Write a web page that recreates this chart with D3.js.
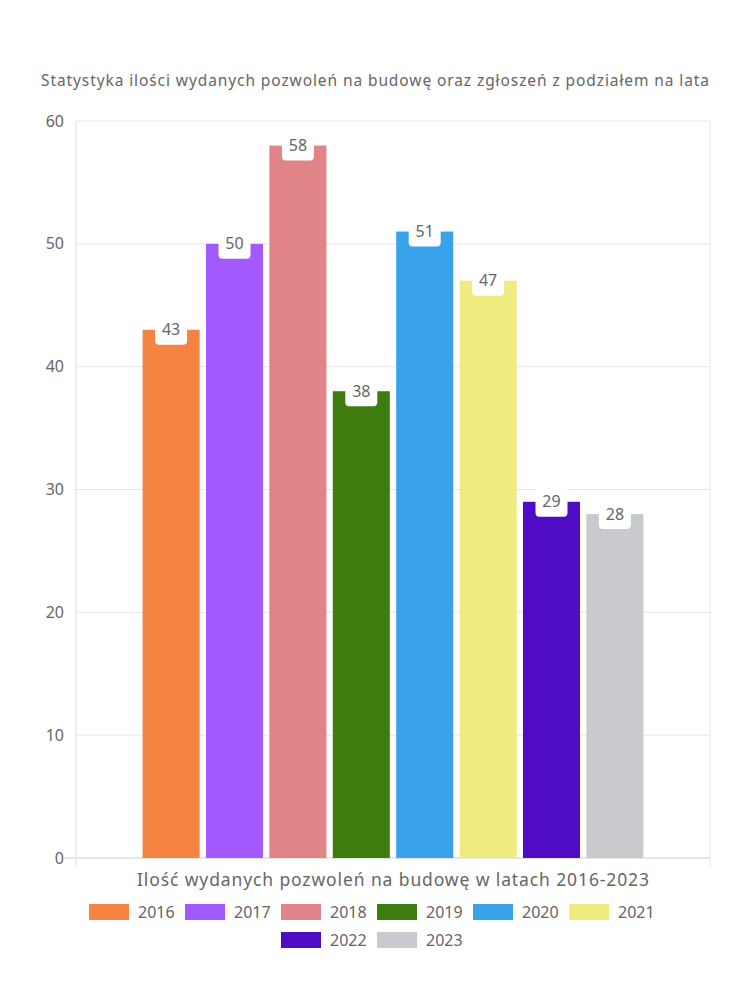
<!DOCTYPE html>
<html><head><meta charset="utf-8">
<script src="https://cdn.jsdelivr.net/npm/d3@7"></script>
<style>body{margin:0;background:#fff}svg{display:block}text{font-family:"Noto Sans",sans-serif;fill:#666}</style>
</head><body>
<script>
const years = ["2016","2017","2018","2019","2020","2021","2022","2023"];
const values = [43,50,58,38,51,47,29,28];
const colors = ["#F58442","#A259FF","#E08487","#3E7C0E","#38A3EB","#F0EB7E","#500BC4","#C9CACE"];
const yTicks = [0,10,20,30,40,50,60];
const category = ["Ilość wydanych pozwoleń na budowę w latach 2016-2023"];
const title = "Statystyka ilości wydanych pozwoleń na budowę oraz zgłoszeń z podziałem na lata";

const W=750,H=1000;
const svg=d3.select("body").append("svg").attr("width",W).attr("height",H);
const L=76,R=710,T=121,B=858;
const y=d3.scaleLinear().domain([0,60]).range([B,T]);
const xCat=d3.scaleBand().domain(category).range([L,R]).paddingInner(0).paddingOuter(0.125);
const x0c=xCat(category[0]);
const xBar=d3.scaleBand().domain(years).range([x0c,x0c+xCat.bandwidth()]).paddingInner(0.1).paddingOuter(0.05);

// title
svg.append("text").attr("x",375).attr("y",86).attr("text-anchor","middle").style("font-size","15.5px")
 .attr("textLength",668).attr("lengthAdjust","spacing").text(title);

// grid
svg.append("g").selectAll("line").data(yTicks).join("line")
 .attr("x1",L).attr("x2",R).attr("y1",d=>y(d)).attr("y2",d=>y(d))
 .attr("stroke",d=>d===0?"#ccc":"#e6e6e6");
svg.append("line").attr("x1",64).attr("x2",L).attr("y1",B).attr("y2",B).attr("stroke","#ccc");
svg.append("line").attr("x1",L).attr("x2",L).attr("y1",T).attr("y2",866).attr("stroke","#ddd");
svg.append("line").attr("x1",R).attr("x2",R).attr("y1",T).attr("y2",866).attr("stroke","#e6e6e6");

// y axis labels
svg.append("g").selectAll("text").data(yTicks).join("text")
 .attr("x",64).attr("y",d=>y(d)).attr("dy","0.35em").attr("text-anchor","end")
 .style("font-size","16px").text(d=>d);

// bars
svg.append("g").selectAll("rect").data(values).join("rect")
 .attr("x",(d,i)=>xBar(years[i])).attr("width",xBar.bandwidth())
 .attr("y",d=>y(d)).attr("height",d=>B-y(d)).attr("fill",(d,i)=>colors[i]);

// labels
const lab=svg.append("g").selectAll("g").data(values).join("g")
 .attr("transform",(d,i)=>`translate(${xBar(years[i])+xBar.bandwidth()/2},${y(d)})`);
lab.append("rect").attr("x",-16).attr("y",-14).attr("width",32).attr("height",29).attr("rx",4).attr("fill","#fff");
lab.append("text").attr("text-anchor","middle").attr("dy","0.35em").style("font-size","16px").text(d=>d);

// x axis label
svg.append("text").attr("x",393).attr("y",886).attr("text-anchor","middle").style("font-size","17.5px")
 .attr("textLength",512).attr("lengthAdjust","spacing").text(category[0]);

// legend
const rows=[years.slice(0,6),years.slice(6)];
const itemW=96;
rows.forEach((row,ri)=>{
  const x0=375-(row.length*itemW-4)/2;
  row.forEach((yr,j)=>{
    const i=years.indexOf(yr);
    const gx=x0+j*itemW, gy=904+ri*28;
    svg.append("rect").attr("x",gx).attr("y",gy).attr("width",40).attr("height",16).attr("fill",colors[i]);
    svg.append("text").attr("x",gx+49).attr("y",gy+8).attr("dy","0.35em").style("font-size","16px").text(yr);
  });
});
</script>
</body></html>
